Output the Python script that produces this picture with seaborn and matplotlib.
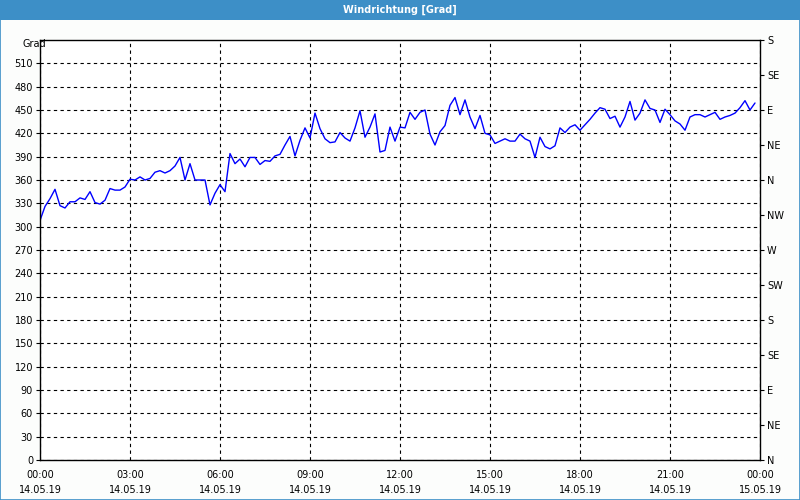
import numpy as np
import pandas as pd
import matplotlib
matplotlib.use("Agg")
import matplotlib.pyplot as plt
import seaborn as sns
from matplotlib.patches import Rectangle

# ---- data (10-minute samples, 14.05.19 00:00 .. 23:50) ----
hours = [i / 6 for i in range(144)]
direction = [
    308, 326, 336, 348, 327, 324, 332, 332, 337, 335, 345, 331,
    329, 334, 349, 347, 347, 351, 361, 360, 364, 360, 362, 370,
    372, 369, 372, 378, 389, 360, 381, 360, 360, 360, 328, 343,
    354, 345, 394, 381, 387, 377, 389, 389, 380, 385, 384, 391,
    393, 405, 416, 391, 411, 427, 414, 446, 426, 413, 408, 409,
    421, 414, 410, 427, 449, 415, 428, 445, 396, 398, 428, 410,
    428, 427, 447, 438, 447, 450, 419, 405, 422, 430, 456, 466,
    444, 463, 441, 426, 443, 420, 418, 407, 410, 413, 410, 410,
    419, 413, 410, 389, 415, 403, 400, 404, 427, 421, 428, 431,
    424, 431, 438, 446, 453, 451, 439, 442, 428, 441, 461, 437,
    446, 463, 452, 450, 434, 451, 444, 436, 432, 424, 441, 444,
    444, 441, 444, 447, 438, 441, 443, 446, 453, 462, 450, 459,
]
x_ticks = [0, 3, 6, 9, 12, 15, 18, 21, 24]
x_labels = ["00:00\n14.05.19", "03:00\n14.05.19", "06:00\n14.05.19",
            "09:00\n14.05.19", "12:00\n14.05.19", "15:00\n14.05.19",
            "18:00\n14.05.19", "21:00\n14.05.19", "00:00\n15.05.19"]
y_ticks = list(range(0, 511, 30))
compass = ["N", "NE", "E", "SE", "S", "SW", "W", "NW", "N", "NE", "E", "SE", "S"]
compass_ticks = list(range(0, 541, 45))

df = pd.DataFrame({"hour": hours, "deg": direction})

sns.set_style("white")
plt.rcParams["font.family"] = ["DejaVu Sans"]

bg = "#FCFDFC"
fig = plt.figure(figsize=(8, 5), dpi=100, facecolor=bg)
ax = fig.add_axes([0.05, 0.08, 0.90, 0.84])
ax.set_facecolor("white")

sns.lineplot(data=df, x="hour", y="deg", ax=ax, color="#0000FF", linewidth=1.0)

ax.set_xlim(0, 24)
ax.set_ylim(0, 540)
ax.set_xticks(x_ticks)
ax.set_xticklabels(x_labels, fontsize=7, linespacing=1.6)
ax.set_xticks(range(0, 25), minor=True)
ax.set_yticks(y_ticks)
ax.set_yticklabels([str(v) for v in y_ticks], fontsize=7)
ax.set_xlabel("")
ax.set_ylabel("")
ax.grid(True, which="major", color="black", linestyle=(0, (3, 3)), linewidth=0.8)
for s in ax.spines.values():
    s.set_color("black")
    s.set_linewidth(1.0)
ax.tick_params(axis="x", which="both", direction="out", length=3, width=0.8,
               colors="black", pad=4)
ax.tick_params(axis="y", which="both", direction="out", length=3, width=0.8,
               colors="black", pad=2)

ax2 = ax.twinx()
ax2.set_ylim(0, 540)
ax2.set_yticks(compass_ticks)
ax2.set_yticklabels(compass, fontsize=7)
ax2.tick_params(axis="y", direction="out", length=3, width=0.8, colors="black", pad=2)
for s in ax2.spines.values():
    s.set_visible(False)
ax2.grid(False)

fig.text(0.028, 0.912, "Grad", fontsize=7, ha="left", va="center", color="black")

# title bar and window border
fig.patches.append(Rectangle((0, 0.96), 1, 0.04, transform=fig.transFigure,
                             facecolor="#3D8FC7", edgecolor="none", zorder=0))
fig.patches.append(Rectangle((0.0006, 0.001), 0.9988, 0.998, transform=fig.transFigure,
                             facecolor="none", edgecolor="#3D8FC7", linewidth=1.2, zorder=5))
fig.text(0.5, 0.98, "Windrichtung [Grad]", fontsize=7, fontweight="bold",
         color="white", ha="center", va="center")

fig.savefig("out.png", dpi=100, facecolor=bg)
